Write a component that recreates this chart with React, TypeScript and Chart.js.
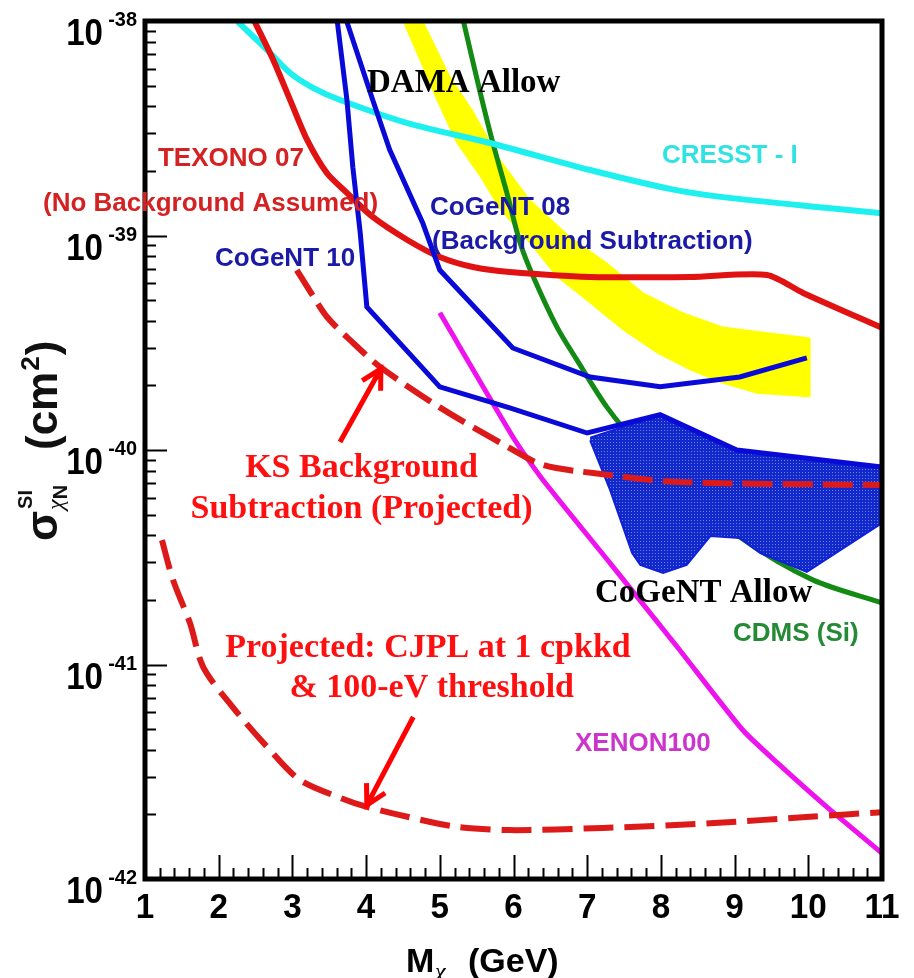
import React, { useEffect, useRef } from "react";
import { Chart, registerables } from "chart.js";

Chart.register(...registerables);

// ---------- data (x: WIMP mass in GeV, y: cross-section in cm^2) ----------
const cresstX = [2.26, 2.66, 2.97, 3.28, 3.65, 4.56, 5.68, 7.04, 8.12, 8.84, 10.3, 11.0];
const cresstY = [9.9e-39, 7.32e-39, 5.72e-39, 4.88e-39, 4.28e-39, 3.34e-39, 2.7e-39, 2.02e-39, 1.65e-39, 1.51e-39, 1.34e-39, 1.27e-39];

const texonoX = [2.49, 2.74, 2.97, 3.2, 3.47, 3.74, 4.09, 4.56, 5.0, 5.45, 5.95, 7.04, 8.4, 9.44, 9.93, 11.0];
const texonoY = [9.9e-39, 6.58e-39, 4.28e-39, 2.79e-39, 1.95e-39, 1.58e-39, 1.22e-39, 9.53e-40, 7.94e-40, 7.13e-40, 6.76e-40, 6.41e-40, 6.41e-40, 6.55e-40, 5.4e-40, 3.71e-40];

const cogent10X = [3.61, 3.74, 3.82, 3.92, 4.01, 5.0, 5.95, 7.0, 7.99, 9.03, 11.0];
const cogent10Y = [9.9e-39, 4.28e-39, 2.08e-39, 1.03e-39, 4.65e-40, 1.97e-40, 1.57e-40, 1.2e-40, 1.46e-40, 1.0e-40, 8.34e-41];

const cogent08X = [3.74, 4.09, 4.32, 4.77, 5.0, 5.99, 7.04, 7.99, 9.07, 9.98];
const cogent08Y = [9.9e-39, 4.28e-39, 2.51e-39, 1.14e-39, 6.9e-40, 2.99e-40, 2.19e-40, 1.97e-40, 2.19e-40, 2.69e-40];

const cdmsX = [5.32, 5.55, 5.72, 5.91, 6.09, 6.27, 6.59, 6.86, 7.27, 7.72, 8.26, 9.07, 10.06, 11.0];
const cdmsY = [1.0e-38, 4.61e-39, 2.7e-39, 1.58e-39, 9.23e-40, 6.41e-40, 3.74e-40, 2.63e-40, 1.58e-40, 1.03e-40, 6.87e-41, 3.93e-41, 2.48e-41, 1.94e-41];

const xenonX = [5.0, 6.02, 6.4, 7.31, 8.22, 9.11, 9.58, 10.25, 11.0];
const xenonY = [4.36e-40, 1.11e-40, 7.25e-41, 2.97e-41, 1.21e-41, 4.95e-42, 3.48e-42, 2.17e-42, 1.32e-42];

const ksX = [3.06, 3.27, 3.47, 3.78, 4.19, 5.0, 5.95, 6.4, 7.08, 8.22, 11.0];
const ksY = [6.9e-40, 5.29e-40, 4.17e-40, 3.26e-40, 2.44e-40, 1.58e-40, 1.02e-40, 8.51e-41, 7.81e-41, 7.1e-41, 6.87e-41];

const cjplX = [1.23, 1.38, 1.61, 1.79, 2.19, 2.66, 3.1, 3.65, 4.01, 4.56, 5.23, 5.95, 7.21, 8.67, 10.02, 11.0];
const cjplY = [3.8e-41, 2.48e-41, 1.56e-41, 9.73e-42, 6.33e-42, 4.12e-42, 2.9e-42, 2.39e-42, 2.17e-42, 1.95e-42, 1.75e-42, 1.69e-42, 1.73e-42, 1.82e-42, 1.95e-42, 2.05e-42];

// DAMA allowed band outline (closed polygon)
const damaX = [4.77, 5.14, 5.44, 5.82, 6.22, 6.77, 7.27, 7.76, 8.3, 8.84, 10.02, 10.02, 9.3, 8.84, 8.4, 7.95, 7.49, 7.04, 6.59, 6.22, 5.82, 5.55, 5.23, 4.96, 4.73, 4.5];
const damaY = [1.0e-38, 5.48e-39, 3.85e-39, 2.25e-39, 1.47e-39, 9.84e-40, 7.44e-40, 5.4e-40, 4.36e-40, 3.74e-40, 3.33e-40, 1.77e-40, 1.84e-40, 2.05e-40, 2.36e-40, 2.83e-40, 3.62e-40, 4.84e-40, 6.41e-40, 9.23e-40, 1.32e-39, 1.88e-39, 2.7e-39, 4.28e-39, 6.58e-39, 1.0e-38];

// CoGeNT allowed region outline (closed polygon)
const cogentAllowX = [7.04, 7.99, 9.03, 11.0, 11.0, 9.98, 9.35, 9.07, 8.67, 8.35, 8.03, 7.72, 7.61, 7.31, 7.04];
const cogentAllowY = [1.14e-40, 1.46e-40, 1.0e-40, 8.41e-41, 4.57e-41, 2.7e-41, 3.31e-41, 3.89e-41, 3.97e-41, 2.91e-41, 2.67e-41, 2.91e-41, 3.31e-41, 6.52e-41, 1.11e-40];

// ticks
const xTickValues = [1, 2, 3, 4, 5, 6, 7, 8, 9, 10, 11];
const xTickLabels = ["1", "2", "3", "4", "5", "6", "7", "8", "9", "10", "11"];
const yTickValues = [1e-42, 1e-41, 1e-40, 1e-39, 1e-38];
const yTickExponents = ["-42", "-41", "-40", "-39", "-38"];

// annotation texts (anchored in data coordinates)
const SANS = '"Liberation Sans", Arial, Helvetica, sans-serif';
const SERIF = '"Liberation Serif", "Times New Roman", serif';
const RED_L = "#d42222";
const NAVY = "#1a1aa6";
const BRIGHT_RED = "#ff1010";

type Lbl = { text: string; x: number; y: number; color: string; font: string; align: CanvasTextAlign };
const annotationTexts: Lbl[] = [
  { text: "DAMA Allow", x: 4.012, y: 4.67e-39, color: "#000", font: `bold 33px ${SERIF}`, align: "left" },
  { text: "CRESST - I", x: 8.015, y: 2.18e-39, color: "#30e2e2", font: `bold 26px ${SANS}`, align: "left" },
  { text: "TEXONO 07", x: 1.176, y: 2.11e-39, color: RED_L, font: `bold 26px ${SANS}`, align: "left" },
  { text: "(No Background Assumed)", x: -0.384, y: 1.3e-39, color: RED_L, font: `bold 26px ${SANS}`, align: "left" },
  { text: "CoGeNT 08", x: 4.867, y: 1.25e-39, color: NAVY, font: `bold 26px ${SANS}`, align: "left" },
  { text: "(Background Subtraction)", x: 4.894, y: 8.65e-40, color: NAVY, font: `bold 26px ${SANS}`, align: "left" },
  { text: "CoGeNT 10", x: 1.95, y: 7.21e-40, color: NAVY, font: `bold 26px ${SANS}`, align: "left" },
  { text: "KS Background", x: 3.938, y: 7.48e-41, color: BRIGHT_RED, font: `bold 34px ${SERIF}`, align: "center" },
  { text: "Subtraction (Projected)", x: 3.938, y: 4.82e-41, color: BRIGHT_RED, font: `bold 34px ${SERIF}`, align: "center" },
  { text: "Projected: CJPL at 1 cpkkd", x: 4.84, y: 1.08e-41, color: BRIGHT_RED, font: `bold 34px ${SERIF}`, align: "center" },
  { text: "& 100-eV threshold", x: 4.89, y: 7.05e-42, color: BRIGHT_RED, font: `bold 34px ${SERIF}`, align: "center" },
  { text: "CoGeNT Allow", x: 7.106, y: 1.95e-41, color: "#000", font: `bold 33px ${SERIF}`, align: "left" },
  { text: "CDMS (Si)", x: 8.978, y: 1.29e-41, color: "#258a35", font: `bold 26px ${SANS}`, align: "left" },
  { text: "XENON100", x: 6.834, y: 3.95e-42, color: "#cc35cc", font: `bold 26px ${SANS}`, align: "left" },
];

const arrowTails = [[3.646, 1.09e-40], [4.64, 5.69e-42]];
const arrowTips = [[4.2, 2.39e-40], [4.01, 2.21e-42]];

const W = 914;
const H = 978;

function pts(xs: number[], ys: number[]) {
  return xs.map((x, i) => ({ x, y: ys[i] }));
}

function drawText(ctx: CanvasRenderingContext2D, s: string, x: number, y: number, font: string, color: string, align: CanvasTextAlign = "left", sx = 1) {
  ctx.save();
  ctx.font = font;
  ctx.fillStyle = color;
  ctx.textAlign = align;
  ctx.textBaseline = "alphabetic";
  ctx.translate(x, y);
  ctx.scale(sx, 1);
  ctx.fillText(s, 0, 0);
  ctx.restore();
}

const overlayPlugin = {
  id: "overlay",
  afterDatasetsDraw(chart: any) {
    const ctx: CanvasRenderingContext2D = chart.ctx;
    const a = chart.chartArea;
    const xs = chart.scales.x;
    const ys = chart.scales.y;
    ctx.save();
    // minor / major tick marks
    ctx.strokeStyle = "#000";
    ctx.lineWidth = 2;
    ctx.beginPath();
    for (let e = -42; e < -38; e++) {
      for (let m = 1; m < 10; m++) {
        const py = Math.round(ys.getPixelForValue(m * Math.pow(10, e))) + 0.5;
        const len = m === 1 ? 22 : 11;
        if (m === 1 && e === -42) continue;
        ctx.moveTo(a.left, py);
        ctx.lineTo(a.left + len, py);
      }
    }
    for (let i = 1; i < 50; i++) {
      const v = 1 + i * 0.2;
      const px = Math.round(xs.getPixelForValue(v)) + 0.5;
      const len = i % 5 === 0 ? 24 : 11;
      ctx.moveTo(px, a.bottom);
      ctx.lineTo(px, a.bottom - len);
    }
    ctx.stroke();
    // frame
    ctx.lineWidth = 5;
    ctx.strokeRect(a.left, a.top, a.right - a.left, a.bottom - a.top);

    // annotation texts
    for (const l of annotationTexts) {
      drawText(ctx, l.text, xs.getPixelForValue(l.x), ys.getPixelForValue(l.y), l.font, l.color, l.align);
    }
    // arrows
    ctx.strokeStyle = "#ff0000";
    ctx.lineWidth = 5;
    ctx.lineCap = "butt";
    for (let i = 0; i < arrowTails.length; i++) {
      const x0 = xs.getPixelForValue(arrowTails[i][0]);
      const y0 = ys.getPixelForValue(arrowTails[i][1]);
      const x1 = xs.getPixelForValue(arrowTips[i][0]);
      const y1 = ys.getPixelForValue(arrowTips[i][1]);
      const ang = Math.atan2(y1 - y0, x1 - x0);
      ctx.beginPath();
      ctx.moveTo(x0, y0);
      ctx.lineTo(x1, y1);
      const hl = 22;
      ctx.moveTo(x1 - hl * Math.cos(ang - 0.5), y1 - hl * Math.sin(ang - 0.5));
      ctx.lineTo(x1, y1);
      ctx.lineTo(x1 - hl * Math.cos(ang + 0.5), y1 - hl * Math.sin(ang + 0.5));
      ctx.stroke();
    }
    ctx.restore();
  },
  afterDraw(chart: any) {
    const ctx: CanvasRenderingContext2D = chart.ctx;
    const xs = chart.scales.x;
    const ys = chart.scales.y;
    // y tick labels 10^n
    yTickValues.forEach((v, i) => {
      const py = ys.getPixelForValue(v);
      drawText(ctx, "10", 103, py + 24, `bold 36px ${SANS}`, "#000", "right", 0.92);
      drawText(ctx, yTickExponents[i], 137, py + 5, `bold 21px ${SANS}`, "#000", "right", 0.95);
    });
    // x tick labels
    xTickValues.forEach((v, i) => {
      const px = xs.getPixelForValue(v);
      drawText(ctx, xTickLabels[i], px, 918, `bold 35px ${SANS}`, "#000", "center", 0.95);
    });
    // x title
    drawText(ctx, "M", 406, 972, `bold 34px ${SANS}`, "#000", "left");
    drawText(ctx, "χ", 435, 979, `italic 24px ${SERIF}`, "#000", "left");
    drawText(ctx, "(GeV)", 468, 972, `bold 34px ${SANS}`, "#000", "left");
    // y title (rotated)
    ctx.save();
    ctx.translate(57, 543);
    ctx.rotate(-Math.PI / 2);
    ctx.fillStyle = "#111";
    ctx.textAlign = "left";
    ctx.textBaseline = "alphabetic";
    ctx.font = `bold 44px ${SANS}`;
    ctx.fillText("σ", 2, 0);
    const ws = ctx.measureText("σ").width;
    ctx.font = `bold 20px ${SANS}`;
    ctx.fillText("SI", 2 + ws + 2, -25);
    ctx.font = `italic 24px ${SERIF}`;
    ctx.fillText("χ", 2 + ws + 1, 6);
    const wc = ctx.measureText("χ").width;
    ctx.font = `bold 20px ${SANS}`;
    ctx.fillText("N", 2 + ws + 1 + wc, 10);
    ctx.font = `bold 44px ${SANS}`;
    ctx.fillText("(cm", 93, 0);
    const wcm = ctx.measureText("(cm").width;
    ctx.font = `bold 26px ${SANS}`;
    ctx.fillText("2", 93 + wcm + 1, -18);
    const w2 = ctx.measureText("2").width;
    ctx.font = `bold 44px ${SANS}`;
    ctx.fillText(")", 93 + wcm + 2 + w2, 0);
    ctx.restore();
  },
};

export default function App() {
  const ref = useRef<HTMLCanvasElement>(null);
  useEffect(() => {
    const canvas = ref.current!;
    const ctx = canvas.getContext("2d")!;
    const pc = document.createElement("canvas");
    pc.width = 3;
    pc.height = 3;
    const pg = pc.getContext("2d")!;
    pg.fillStyle = "#1028cc";
    pg.fillRect(0, 0, 3, 3);
    pg.fillStyle = "rgba(255,255,255,0.4)";
    pg.fillRect(1, 1, 1, 1);
    const pattern = ctx.createPattern(pc, "repeat")!;

    const line = (label: string, xs: number[], ys: number[], color: string, width: number, extra: any = {}) => ({
      label,
      data: pts(xs, ys),
      showLine: true,
      borderColor: color,
      backgroundColor: color,
      borderWidth: width,
      pointRadius: 0,
      pointHoverRadius: 0,
      fill: false,
      tension: 0,
      ...extra,
    });

    const chart = new Chart(ctx, {
      type: "scatter",
      data: {
        datasets: [
          line("KS Projected", ksX, ksY, "#dc1a1a", 6, { borderDash: [30, 10], tension: 0.3, order: 0 }),
          line("CJPL Projected", cjplX, cjplY, "#dc1a1a", 6, { borderDash: [30, 11], tension: 0.3, order: 0 }),
          line("CoGeNT 10", cogent10X, cogent10Y, "#0a0ad8", 5, { order: 1 }),
          line("CoGeNT 08", cogent08X, cogent08Y, "#0a0ad8", 5, { order: 1 }),
          line("XENON100", xenonX, xenonY, "#ee12ee", 5, { tension: 0.2, order: 2 }),
          line("TEXONO 07", texonoX, texonoY, "#e01212", 6, { tension: 0.25, order: 2 }),
          line("CRESST-I", cresstX, cresstY, "#1ef0f0", 6, { tension: 0.3, order: 2 }),
          line("CoGeNT Allow", cogentAllowX, cogentAllowY, "#1020d8", 2, { backgroundColor: pattern, fill: "shape", order: 5 }),
          line("CDMS (Si)", cdmsX, cdmsY, "#138a13", 5, { tension: 0.3, order: 6 }),
          line("DAMA Allow", damaX, damaY, "#ffff00", 1, { backgroundColor: "#ffff00", fill: "shape", order: 7 }),
        ],
      },
      options: {
        responsive: false,
        animation: false,
        devicePixelRatio: 1,
        events: [],
        layout: { padding: { left: 145, top: 21, right: 32, bottom: 99 } },
        plugins: { legend: { display: false }, tooltip: { enabled: false } },
        scales: {
          x: { type: "linear", min: 1, max: 11, display: false },
          y: { type: "logarithmic", min: 1e-42, max: 1e-38, display: false },
        },
      },
      plugins: [overlayPlugin],
    } as any);
    return () => chart.destroy();
  }, []);
  return (
    <div style={{ position: "fixed", left: 0, top: 0, width: W, height: H, background: "#fff" }}>
      <canvas ref={ref} width={W} height={H} style={{ width: W, height: H, display: "block" }} />
    </div>
  );
}
